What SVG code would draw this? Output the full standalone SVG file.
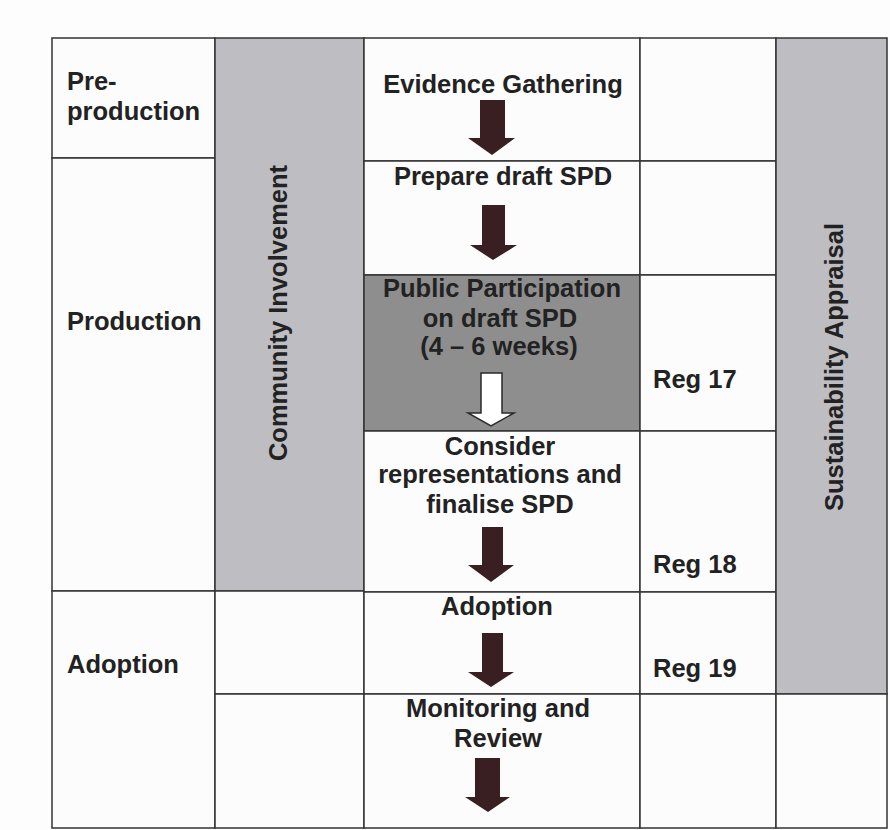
<svg xmlns="http://www.w3.org/2000/svg" width="890" height="830" viewBox="0 0 890 830">
<style>
.cell{fill:#fcfcfc;stroke:#333;stroke-width:1.5}
.light{fill:#bdbdc2;stroke:#333;stroke-width:1.5}
.dark{fill:#8e8e8e;stroke:#333;stroke-width:1.5}
text{font-family:"Liberation Sans",Arial,sans-serif;font-weight:bold;font-size:25.5px;fill:#222}
.c{text-anchor:middle}
.arr{fill:#3a1f22}
.warr{fill:#ffffff;stroke:#2a2a2a;stroke-width:1.5}
</style>
<rect width="890" height="830" fill="#fdfdfd"/>
<g id="phase-preproduction">
<rect class="cell" x="52" y="38" width="163" height="120"/>
<text x="67" y="90">Pre-</text>
<text x="67" y="120">production</text>
</g>
<g id="phase-production">
<rect class="cell" x="52" y="158" width="163" height="433"/>
<text x="67" y="330">Production</text>
</g>
<g id="phase-adoption">
<rect class="cell" x="52" y="591" width="163" height="237"/>
<text x="67" y="673">Adoption</text>
</g>
<g id="community-involvement">
<rect class="light" x="215" y="38" width="149" height="553"/>
<text class="c" transform="translate(287,313) rotate(-90)">Community Involvement</text>
</g>
<g id="ci-blank">
<rect class="cell" x="215" y="591" width="149" height="103"/>
<rect class="cell" x="215" y="694" width="149" height="134"/>
</g>
<g id="evidence">
<rect class="cell" x="364" y="38" width="276" height="123"/>
<text class="c" x="503" y="93">Evidence Gathering</text>
</g>
<g id="prepare">
<rect class="cell" x="364" y="161" width="276" height="114"/>
<text class="c" x="503" y="185">Prepare draft SPD</text>
</g>
<g id="public">
<rect class="dark" x="364" y="275" width="276" height="156"/>
<text class="c" x="502" y="297">Public Participation</text>
<text class="c" x="500" y="327">on draft SPD</text>
<text class="c" x="499" y="355">(4 – 6 weeks)</text>
</g>
<g id="consider">
<rect class="cell" x="364" y="431" width="276" height="161"/>
<text class="c" x="500" y="455">Consider</text>
<text class="c" x="500" y="483">representations and</text>
<text class="c" x="500" y="513">finalise SPD</text>
</g>
<g id="adoption">
<rect class="cell" x="364" y="592" width="276" height="102"/>
<text class="c" x="497" y="615">Adoption</text>
</g>
<g id="monitoring">
<rect class="cell" x="364" y="694" width="276" height="134"/>
<text class="c" x="498" y="717">Monitoring and</text>
<text class="c" x="498" y="747">Review</text>
</g>
<g id="regs">
<rect class="cell" x="640" y="38" width="136" height="123"/>
<rect class="cell" x="640" y="161" width="136" height="114"/>
<rect class="cell" x="640" y="275" width="136" height="156"/>
<text x="653" y="388">Reg 17</text>
<rect class="cell" x="640" y="431" width="136" height="161"/>
<text x="653" y="573">Reg 18</text>
<rect class="cell" x="640" y="592" width="136" height="102"/>
<text x="653" y="677">Reg 19</text>
<rect class="cell" x="640" y="694" width="136" height="134"/>
</g>
<g id="sustainability">
<rect class="light" x="776" y="38" width="111" height="656"/>
<text class="c" transform="translate(843,367) rotate(-90)">Sustainability Appraisal</text>
</g>
<g id="sa-blank">
<rect class="cell" x="776" y="694" width="111" height="134"/>
</g>
<g id="connectors">
<path class="arr" d="M480,100 H505 V138 H515 L492,155 L468,138 H480 Z"/>
<path class="arr" d="M482,205 H505 V245 H517 L493,260 L470,245 H482 Z"/>
<path class="warr" d="M481,373 H502 V413 H514 L491,426 L468,413 H481 Z"/>
<path class="arr" d="M482,527 H503 V565 H514 L491,582 L468,565 H482 Z"/>
<path class="arr" d="M482,633 H503 V672 H514 L491,687 L468,672 H482 Z"/>
<path class="arr" d="M475,758 H500 V797 H510 L488,812 L465,797 H475 Z"/>
</g>
</svg>
